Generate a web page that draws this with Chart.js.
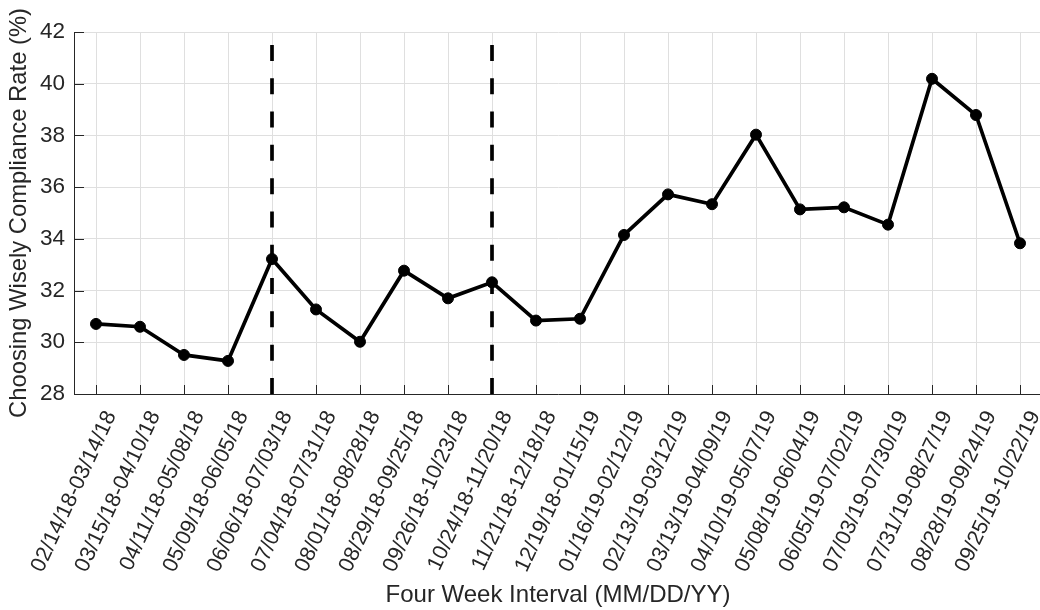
<!DOCTYPE html>
<html>
<head>
<meta charset="utf-8">
<script src="https://cdn.jsdelivr.net/npm/chart.js@4"></script>
<style>
  html, body { margin: 0; padding: 0; background: #ffffff; overflow: hidden; }
  #wrap { width: 1040px; height: 610px; overflow: hidden; }
  canvas { display: block; }
</style>
</head>
<body>
<div id="wrap"><canvas id="c" width="1050" height="610"></canvas></div>
<script>
const categories = [
  '02/14/18-03/14/18', '03/15/18-04/10/18', '04/11/18-05/08/18', '05/09/18-06/05/18',
  '06/06/18-07/03/18', '07/04/18-07/31/18', '08/01/18-08/28/18', '08/29/18-09/25/18',
  '09/26/18-10/23/18', '10/24/18-11/20/18', '11/21/18-12/18/18', '12/19/18-01/15/19',
  '01/16/19-02/12/19', '02/13/19-03/12/19', '03/13/19-04/09/19', '04/10/19-05/07/19',
  '05/08/19-06/04/19', '06/05/19-07/02/19', '07/03/19-07/30/19', '07/31/19-08/27/19',
  '08/28/19-09/24/19', '09/25/19-10/22/19'
];
const complianceRate = [
  30.71, 30.60, 29.51, 29.28, 33.22, 31.27, 30.02, 32.77, 31.70, 32.32, 30.84,
  30.91, 34.15, 35.72, 35.34, 38.03, 35.14, 35.22, 34.55, 40.19, 38.79, 33.83
];
const interventionLabels = ['06/06/18-07/03/18', '10/24/18-11/20/18'];
const interventionSpan = [41.5, 28];
const yTickValues = [28, 30, 32, 34, 36, 38, 40, 42];
const yTitle = 'Choosing Wisely Compliance Rate (%)';
const xTitle = 'Four Week Interval (MM/DD/YY)';

const textColor = '#262626';
const axisColor = '#262626';
const gridColor = '#dfdfdf';
const fontFamily = '"Liberation Sans", Arial, Helvetica, sans-serif';

const innerTicks = {
  id: 'innerTicks',
  beforeDatasetsDraw(chart) {
    const { ctx, chartArea, scales } = chart;
    const xs = scales.x, ys = scales.y;
    ctx.save();
    ctx.strokeStyle = axisColor;
    ctx.lineWidth = 1;
    ctx.beginPath();
    xs.ticks.forEach((t, i) => {
      const px = Math.round(xs.getPixelForTick(i)) + 0.5;
      ctx.moveTo(px, chartArea.bottom);
      ctx.lineTo(px, chartArea.bottom - 9);
    });
    ys.ticks.forEach((t, i) => {
      const py = Math.round(ys.getPixelForTick(i)) + 0.5;
      ctx.moveTo(chartArea.left, py);
      ctx.lineTo(chartArea.left + 10, py);
    });
    ctx.stroke();
    ctx.restore();
  }
};

const interventionDatasets = interventionLabels.map(lbl => ({
  type: 'line',
  data: interventionSpan.map(v => ({ x: lbl, y: v })),
  borderColor: '#000000',
  borderWidth: 3.7,
  borderDash: [16, 17.3],
  pointRadius: 0,
  fill: false,
  tension: 0
}));

new Chart(document.getElementById('c'), {
  type: 'line',
  data: {
    labels: categories,
    datasets: [
      {
        data: complianceRate,
        borderColor: '#000000',
        backgroundColor: '#000000',
        borderWidth: 3.7,
        pointRadius: 5.5,
        pointBorderWidth: 1,
        pointBackgroundColor: '#000000',
        pointBorderColor: '#000000',
        tension: 0,
        fill: false
      },
      ...interventionDatasets
    ]
  },
  options: {
    responsive: false,
    animation: false,
    layout: { padding: { top: 32, right: 8, left: 0, bottom: 0 } },
    plugins: { legend: { display: false }, tooltip: { enabled: false } },
    scales: {
      x: {
        type: 'category',
        offset: true,
        grid: { color: gridColor, lineWidth: 1, drawTicks: false, offset: false },
        border: { display: true, color: axisColor, width: 1 },
        ticks: {
          autoSkip: false,
          minRotation: 65,
          maxRotation: 65,
          padding: 13,
          labelOffset: 15,
          color: textColor,
          font: { family: fontFamily, size: 21.5 }
        },
        title: {
          display: true,
          text: xTitle,
          color: textColor,
          font: { family: fontFamily, size: 24 },
          padding: { top: 0, bottom: 0 }
        },
        afterFit(scale) { scale.height = 216; scale.paddingLeft = 0; scale.paddingRight = 0; }
      },
      y: {
        min: 28,
        max: 42,
        grid: { color: gridColor, lineWidth: 1, drawTicks: false },
        border: { display: true, color: axisColor, width: 1 },
        ticks: {
          padding: 9,
          color: textColor,
          font: { family: fontFamily, size: 22.5 }
        },
        afterBuildTicks(scale) { scale.ticks = yTickValues.map(v => ({ value: v })); },
        title: {
          display: true,
          text: yTitle,
          color: textColor,
          font: { family: fontFamily, size: 23.8 },
          padding: { top: 5, bottom: 0 }
        },
        afterFit(scale) { scale.width = 74; }
      }
    }
  },
  plugins: [innerTicks]
});
</script>
</body>
</html>
